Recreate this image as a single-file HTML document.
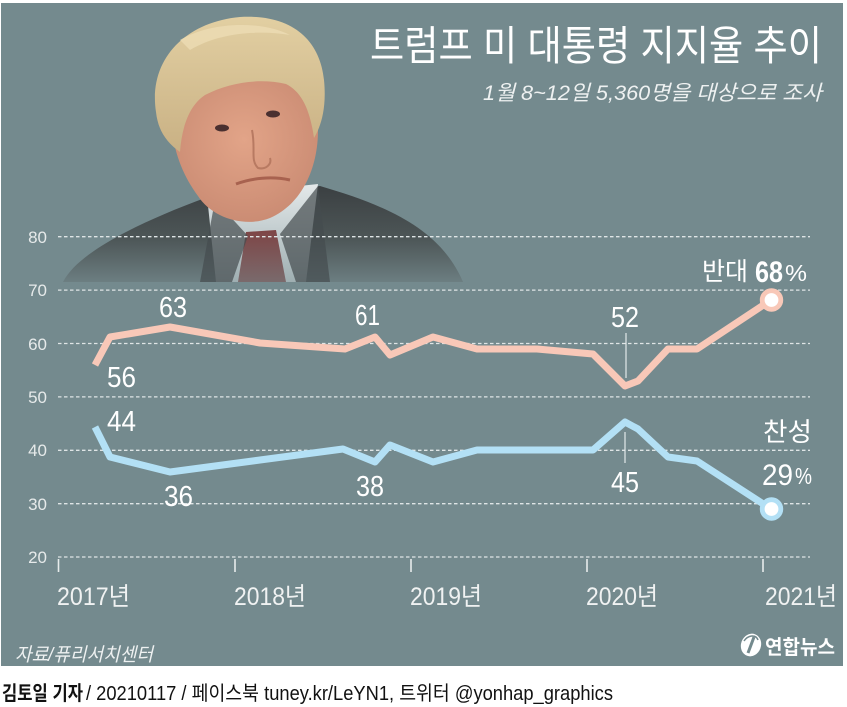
<!DOCTYPE html>
<html>
<head>
<meta charset="utf-8">
<style>
  html,body{margin:0;padding:0;background:#fff;}
  svg{display:block;}
  text{font-family:"Liberation Sans","Noto Sans CJK KR",sans-serif;}
</style>
</head>
<body>
<svg width="847" height="707" viewBox="0 0 847 707" xmlns="http://www.w3.org/2000/svg">
  <defs>
    <linearGradient id="suit" x1="0" y1="0" x2="0" y2="1">
      <stop offset="0" stop-color="#3b4042"/>
      <stop offset="0.55" stop-color="#4d5657"/>
      <stop offset="1" stop-color="#6c7e81"/>
    </linearGradient>
    <linearGradient id="shirt" x1="0" y1="0" x2="0" y2="1">
      <stop offset="0" stop-color="#e4e9ea"/>
      <stop offset="1" stop-color="#9fafb2"/>
    </linearGradient>
    <linearGradient id="tie" x1="0" y1="0" x2="0" y2="1">
      <stop offset="0" stop-color="#7e4546"/>
      <stop offset="1" stop-color="#7a6a6c"/>
    </linearGradient>
    <radialGradient id="face" cx="0.5" cy="0.45" r="0.6">
      <stop offset="0" stop-color="#e2a488"/>
      <stop offset="1" stop-color="#c98a72"/>
    </radialGradient>
    <linearGradient id="hair" x1="0" y1="0" x2="0" y2="1">
      <stop offset="0" stop-color="#e2cfa2"/>
      <stop offset="1" stop-color="#c9b184"/>
    </linearGradient>
  </defs>

  <!-- background -->
  <rect x="0" y="0" width="847" height="707" fill="#ffffff"/>
  <rect x="1" y="3" width="842" height="663" fill="#748a8e"/>

  <!-- portrait -->
  <g>
    <path d="M63,282 C78,252 140,222 205,198 L320,186 C385,205 440,228 463,282 Z" fill="url(#suit)"/>
    <path d="M207,196 L318,184 L306,282 L216,282 Z" fill="url(#shirt)"/>
    <path d="M246,232 L276,230 L286,282 L238,282 Z" fill="url(#tie)"/>
    <path d="M215,200 L248,236 L232,282 L200,282 Z" fill="#454c4e" opacity="0.7"/>
    <path d="M318,186 L280,234 L296,282 L330,282 Z" fill="#454c4e" opacity="0.7"/>
    <!-- neck/face -->
    <path d="M170,110 C168,80 200,70 240,72 C285,72 320,88 318,130 C318,168 302,204 270,218 C245,228 212,218 198,196 C182,174 172,150 170,110 Z" fill="url(#face)"/>
    <!-- hair -->
    <path d="M156,112 C148,60 185,22 240,17 C292,14 320,40 324,80 C327,110 320,128 314,138 C310,110 302,92 286,84 C260,78 230,82 205,95 C190,105 182,125 180,152 C166,142 158,130 156,112 Z" fill="url(#hair)"/>
    <path d="M180,40 C210,22 260,20 290,35 C260,30 220,32 190,50 Z" fill="#ecdcb4" opacity="0.8"/>
    <!-- eyes, mouth -->
    <ellipse cx="222" cy="128" rx="7" ry="3.5" fill="#4a3030"/>
    <ellipse cx="273" cy="114" rx="7" ry="3.5" fill="#4a3030"/>
    <path d="M236,184 C252,178 272,176 290,180" stroke="#a8624f" stroke-width="3" fill="none"/>
    <path d="M252,130 C256,150 250,160 258,168 C266,170 272,164 270,158" stroke="#b87a62" stroke-width="2" fill="none"/>
  </g>

  <!-- gridlines -->
  <g stroke="#dfe5e6" stroke-width="1.3" stroke-dasharray="3.5 2.5">
    <line x1="58" y1="236.7" x2="810" y2="236.7"/>
    <line x1="58" y1="290.1" x2="810" y2="290.1"/>
    <line x1="58" y1="343.5" x2="810" y2="343.5"/>
    <line x1="58" y1="396.9" x2="810" y2="396.9"/>
    <line x1="58" y1="450.3" x2="810" y2="450.3"/>
    <line x1="58" y1="503.7" x2="810" y2="503.7"/>
    <line x1="58" y1="557" x2="810" y2="557"/>
  </g>

  <!-- y labels -->
  <g fill="#e6eaea" font-size="17" text-anchor="end">
    <text x="47" y="243">80</text>
    <text x="47" y="296">70</text>
    <text x="47" y="350">60</text>
    <text x="47" y="403">50</text>
    <text x="47" y="456">40</text>
    <text x="47" y="510">30</text>
    <text x="47" y="563">20</text>
  </g>

  <!-- x ticks -->
  <g stroke="#e8ecec" stroke-width="1.6">
    <line x1="58.5" y1="559" x2="58.5" y2="572"/>
    <line x1="235" y1="559" x2="235" y2="572"/>
    <line x1="411" y1="559" x2="411" y2="572"/>
    <line x1="587" y1="559" x2="587" y2="572"/>
    <line x1="763" y1="559" x2="763" y2="572"/>
  </g>

  <!-- x labels -->
  <g fill="#f0f2f2" font-size="25">
    <text x="57" y="605" textLength="73" lengthAdjust="spacingAndGlyphs">2017년</text>
    <text x="234" y="605" textLength="72" lengthAdjust="spacingAndGlyphs">2018년</text>
    <text x="410" y="605" textLength="72" lengthAdjust="spacingAndGlyphs">2019년</text>
    <text x="586" y="605" textLength="72" lengthAdjust="spacingAndGlyphs">2020년</text>
    <text x="765" y="605" textLength="72" lengthAdjust="spacingAndGlyphs">2021년</text>
  </g>

  <!-- leader lines -->
  <g stroke="#e3e9ea" stroke-width="1.2">
    <line x1="626" y1="333" x2="626" y2="378"/>
    <line x1="625" y1="432" x2="625" y2="463"/>
  </g>

  <!-- series -->
  <polyline fill="none" stroke="#f8c8b8" stroke-width="7" stroke-linejoin="round"
    points="95,365 110,337 170,327 260,343 345,349 375,337 390,355 433,337 477,349 537,349 593,354 625,386 638,381 668,349 697,349 771,300"/>
  <polyline fill="none" stroke="#b3e0f5" stroke-width="7" stroke-linejoin="round"
    points="95,427 110,457 170,472 260,460 343,449 375,462 390,445 433,462 477,450 593,450 625,422 638,429 668,457 697,461 771,509"/>

  <circle cx="771.5" cy="300" r="9.3" fill="#ffffff" stroke="#f8c8b8" stroke-width="4.8"/>
  <circle cx="771.5" cy="509" r="9.3" fill="#ffffff" stroke="#b3e0f5" stroke-width="4.8"/>

  <!-- data labels -->
  <g fill="#ffffff" font-size="29">
    <text x="107" y="387" textLength="29" lengthAdjust="spacingAndGlyphs">56</text>
    <text x="159" y="317" textLength="28" lengthAdjust="spacingAndGlyphs">63</text>
    <text x="355" y="325" textLength="25" lengthAdjust="spacingAndGlyphs">61</text>
    <text x="107" y="431" textLength="29" lengthAdjust="spacingAndGlyphs">44</text>
    <text x="164" y="506" textLength="29" lengthAdjust="spacingAndGlyphs">36</text>
    <text x="356" y="496" textLength="28" lengthAdjust="spacingAndGlyphs">38</text>
    <text x="611" y="327" textLength="28" lengthAdjust="spacingAndGlyphs">52</text>
    <text x="611" y="492" textLength="28" lengthAdjust="spacingAndGlyphs">45</text>
  </g>

  <!-- series labels -->
  <g fill="#ffffff">
    <text x="702" y="280" font-size="25" textLength="46" lengthAdjust="spacingAndGlyphs">반대</text>
    <text x="755" y="282" font-size="30" font-weight="bold" textLength="28" lengthAdjust="spacingAndGlyphs">68</text>
    <text x="785" y="281" font-size="23" textLength="22" lengthAdjust="spacingAndGlyphs">%</text>
    <text x="763" y="441" font-size="26" textLength="49" lengthAdjust="spacingAndGlyphs">찬성</text>
    <text x="762" y="485" font-size="30" textLength="31" lengthAdjust="spacingAndGlyphs">29</text>
    <text x="795" y="484" font-size="23" textLength="17" lengthAdjust="spacingAndGlyphs">%</text>
  </g>

  <!-- title -->
  <text x="370" y="60" font-size="41" fill="#ffffff" textLength="452" lengthAdjust="spacingAndGlyphs">트럼프 미 대통령 지지율 추이</text>
  <text x="822" y="100" font-size="21" font-style="italic" fill="#eef1f1" text-anchor="end" textLength="339" lengthAdjust="spacingAndGlyphs">1월 8~12일 5,360명을 대상으로 조사</text>

  <!-- source -->
  <text x="15" y="661" font-size="19" font-style="italic" fill="#eef1f1" textLength="138" lengthAdjust="spacingAndGlyphs">자료/퓨리서치센터</text>

  <!-- logo -->
  <g>
    <ellipse cx="751" cy="645" rx="10" ry="11.5" fill="#ffffff" transform="rotate(20 751 645)"/>
    <path d="M748,653 L754,637" stroke="#748a8e" stroke-width="3"/>
    <path d="M744,641 C748,635 756,634 758,640" stroke="#748a8e" stroke-width="1.5" fill="none"/>
    <text x="765" y="654" font-size="20" font-weight="bold" fill="#ffffff" textLength="70" lengthAdjust="spacingAndGlyphs">연합뉴스</text>
  </g>

  <!-- credit -->
  <text x="2" y="700" font-size="20" font-weight="bold" fill="#111111" textLength="81" lengthAdjust="spacingAndGlyphs">김토일 기자</text>
  <text x="86" y="700" font-size="20" fill="#111111" textLength="527" lengthAdjust="spacingAndGlyphs">/ 20210117 / 페이스북 tuney.kr/LeYN1, 트위터 @yonhap_graphics</text>
</svg>
</body>
</html>
